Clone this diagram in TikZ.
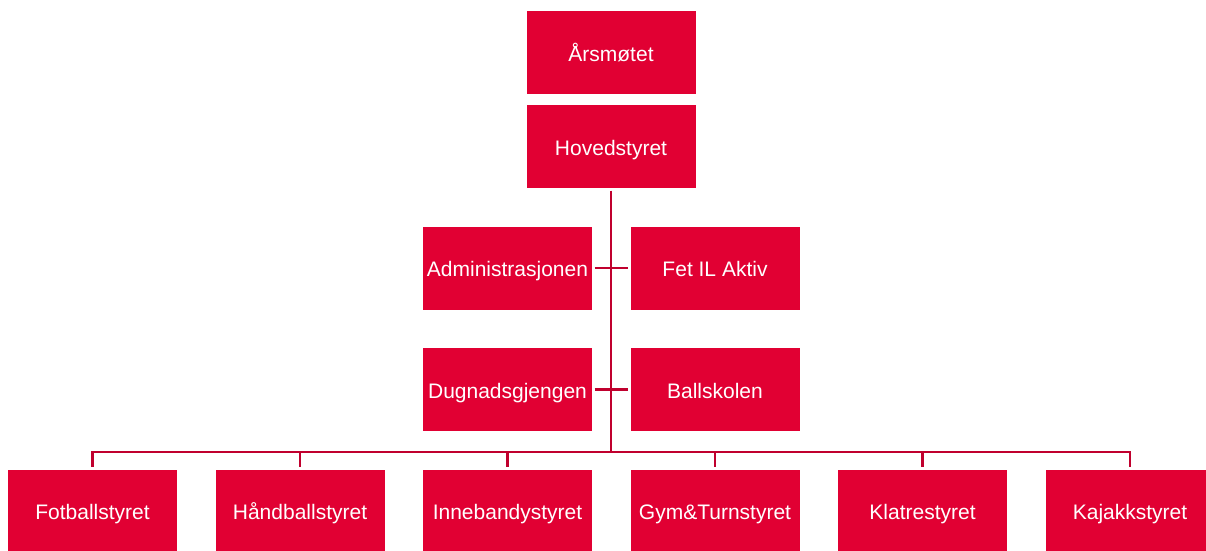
\documentclass[tikz,border=0pt]{standalone}
\usepackage{fontspec}
\setmainfont{Liberation Sans}
\definecolor{boxred}{HTML}{E10033}
\definecolor{linered}{HTML}{C0002E}
\begin{document}
\begin{tikzpicture}[x=1pt,y=-1pt,
  orgbox/.style={fill=boxred, draw=none, minimum width=169pt, minimum height=83pt,
    inner sep=0pt, text=white, text height=17pt, text depth=0pt,
    font=\fontsize{21}{25}\selectfont},
  conn/.style={draw=linered, line width=2.4pt, shorten <=2.5pt, shorten >=2.5pt},
  bus/.style={draw=linered, line width=2.4pt}]
\useasboundingbox (0,0) rectangle (1206,550);
\node[orgbox] (ars) at (611,52.5) {Årsmøtet};
\node[orgbox] (hov) at (611,146.5) {Hovedstyret};
\node[orgbox] (adm) at (507.5,268) {Administrasjonen};
\node[orgbox] (fet) at (715,268) {Fet IL Aktiv};
\node[orgbox] (dug) at (507.5,389.5) {Dugnadsgjengen};
\node[orgbox] (ball) at (715,389.5) {Ballskolen};
\node[orgbox] (fot) at (92.5,511) {Fotballstyret};
\node[orgbox] (hand) at (300,511) {Håndballstyret};
\node[orgbox] (inne) at (507.5,511) {Innebandystyret};
\node[orgbox] (gym) at (715,511) {Gym\&Turnstyret};
\node[orgbox] (klat) at (922.5,511) {Klatrestyret};
\node[orgbox] (kaj) at (1130,511) {Kajakkstyret};
\coordinate (busL) at (92.5,452);
\coordinate (busR) at (1130,452);
\coordinate (busM) at (611,452);
% trunk
\draw[bus, shorten <=2.5pt] (hov.south) -- (busM);
% bus
\draw[bus] ([xshift=-1.2pt]busL) -- ([xshift=1.2pt]busR);
% side connectors
\draw[conn] (adm.east) -- (fet.west);
\draw[conn] (dug.east) -- (ball.west);
% drops
\foreach \n in {fot,hand,inne,gym,klat,kaj}{
  \draw[bus, shorten >=2.5pt] (\n.north |- busL) -- (\n.north);
}
\end{tikzpicture}
\end{document}
